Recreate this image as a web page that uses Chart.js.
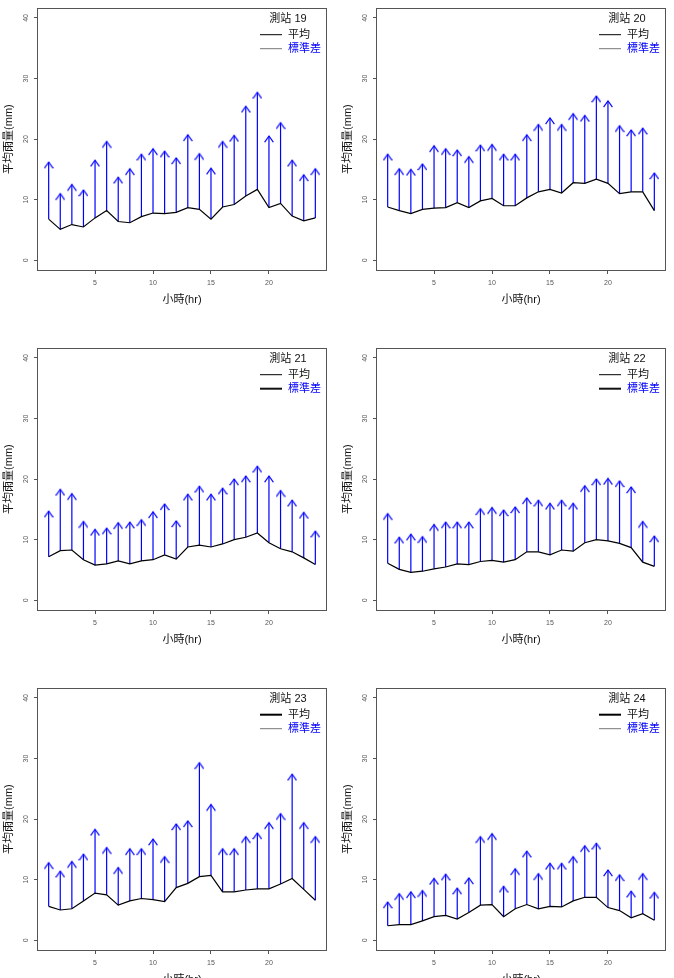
<!DOCTYPE html>
<html><head><meta charset="utf-8">
<script src="https://cdn.jsdelivr.net/npm/chart.js@4.4.1/dist/chart.umd.min.js"></script>
<style>
html,body{margin:0;padding:0;background:#fff;overflow:hidden;width:674px;height:978px;position:relative;}
canvas{position:absolute;}
</style></head><body>
<canvas id="c19" width="339" height="340" style="left:0;top:0"></canvas>
<canvas id="c20" width="339" height="340" style="left:339px;top:0"></canvas>
<canvas id="c21" width="339" height="340" style="left:0;top:340px"></canvas>
<canvas id="c22" width="339" height="340" style="left:339px;top:340px"></canvas>
<canvas id="c23" width="339" height="340" style="left:0;top:680px"></canvas>
<canvas id="c24" width="339" height="340" style="left:339px;top:680px"></canvas>
<script>
// ---- data ----
const hours = [1,2,3,4,5,6,7,8,9,10,11,12,13,14,15,16,17,18,19,20,21,22,23,24];
const xTicks = [5,10,15,20];
const yTicks = [0,10,20,30,40];
const stationNames = ['測站 19','測站 20','測站 21','測站 22','測站 23','測站 24'];
const seriesNames = ['平均','標準差'];

const mean19 = [6.8,5.1,5.9,5.5,7.0,8.2,6.4,6.2,7.2,7.8,7.7,7.9,8.7,8.4,6.8,8.8,9.2,10.6,11.7,8.7,9.4,7.3,6.5,7.0];
const sd19   = [9.4,5.9,6.6,6.1,9.5,11.4,7.3,8.9,10.3,10.6,10.3,9.0,12.0,9.2,8.4,10.8,11.4,14.8,16.0,11.8,13.3,9.2,7.6,8.1];
const mean20 = [8.8,8.2,7.7,8.4,8.6,8.7,9.5,8.7,9.8,10.2,9.0,9.0,10.3,11.3,11.7,11.1,12.8,12.7,13.4,12.7,11.0,11.3,11.3,8.2];
const sd20   = [8.7,6.9,7.3,7.5,10.3,9.7,8.7,8.4,9.2,8.9,8.5,8.5,10.4,11.1,11.8,11.3,11.4,11.2,13.7,13.6,11.2,10.2,10.5,6.2];
const mean21 = [7.2,8.2,8.3,6.7,5.8,6.0,6.5,6.0,6.5,6.7,7.5,6.8,8.8,9.1,8.8,9.3,10.0,10.4,11.1,9.5,8.5,8.0,7.0,5.9];
const sd21   = [7.5,10.1,9.3,6.3,5.9,5.9,6.3,6.9,6.8,7.9,8.4,6.3,8.7,9.7,8.7,9.2,10.0,10.1,11.0,11.0,9.6,8.5,7.5,5.5];
const mean22 = [6.1,5.1,4.6,4.8,5.2,5.5,6.0,5.9,6.4,6.6,6.3,6.7,8.0,8.0,7.5,8.3,8.1,9.5,10.0,9.8,9.4,8.7,6.3,5.6];
const sd22   = [8.2,5.3,6.3,5.7,7.3,7.4,6.9,7.0,8.7,8.7,8.6,8.7,8.9,8.5,8.5,8.2,7.9,9.4,10.0,10.3,10.3,10.0,6.7,5.0];
const mean23 = [5.6,5.0,5.2,6.5,7.8,7.5,5.8,6.5,6.9,6.7,6.4,8.7,9.4,10.5,10.7,8.0,8.0,8.3,8.5,8.5,9.3,10.2,8.4,6.6];
const sd23   = [7.2,6.4,7.8,7.7,10.5,7.8,6.2,8.6,8.2,10.0,7.4,10.5,10.3,18.8,11.7,7.1,7.1,8.8,9.2,10.9,11.6,17.2,11.0,10.5];
const mean24 = [2.4,2.6,2.6,3.2,3.9,4.1,3.5,4.6,5.8,5.9,3.9,5.2,5.9,5.2,5.6,5.5,6.5,7.1,7.1,5.4,4.9,3.7,4.4,3.3];
const sd24   = [3.9,5.1,5.4,5.0,6.3,6.8,5.1,5.7,11.3,11.7,5.0,6.6,8.8,5.8,7.1,7.2,7.3,8.5,8.9,6.2,5.9,4.4,6.6,4.6];

// ---- styles ----
const FONT = '"Liberation Sans","Noto Sans CJK TC",sans-serif';
const legendLineStyles = [
  [{c:'#000',w:1},{c:'#777',w:1}],
  [{c:'#000',w:1},{c:'#777',w:1}],
  [{c:'#000',w:1},{c:'#111',w:2}],
  [{c:'#000',w:1},{c:'#111',w:2}],
  [{c:'#000',w:2},{c:'#777',w:1}],
  [{c:'#000',w:2},{c:'#777',w:1}]
];

function makeArrowHead(){
  const c = document.createElement('canvas'); c.width = 10; c.height = 14;
  const g = c.getContext('2d');
  g.strokeStyle = '#0000ff'; g.lineWidth = 1.2;
  g.beginPath(); g.moveTo(0.6,13.2); g.lineTo(5,7); g.lineTo(9.4,13.2); g.stroke();
  return c;
}
const arrowHead = makeArrowHead();

const boxPlugin = {
  id: 'rbox',
  afterDraw(chart){
    const a = chart.chartArea, ctx = chart.ctx;
    ctx.save(); ctx.strokeStyle = '#555'; ctx.lineWidth = 1;
    ctx.strokeRect(Math.round(a.left)-0.5, Math.round(a.top)+0.5, Math.round(a.right-a.left)+1, Math.round(a.bottom-a.top));
    ctx.restore();
  }
};

const legendPlugin = {
  id: 'rLegend',
  afterDraw(chart, args, opts){
    const a = chart.chartArea, ctx = chart.ctx;
    ctx.save();
    ctx.font = '11px ' + FONT;
    ctx.fillStyle = '#111'; ctx.textAlign = 'center'; ctx.textBaseline = 'middle';
    ctx.fillText(opts.title, a.left + 250, a.top + 10.5);
    const items = chart.data.datasets.filter(d => d.label);
    items.forEach((d, i) => {
      const y = a.top + 26.5 + i * 14;
      const st = opts.lines[i];
      ctx.strokeStyle = st.c; ctx.lineWidth = st.w;
      ctx.beginPath(); ctx.moveTo(a.left + 222, y); ctx.lineTo(a.left + 244, y); ctx.stroke();
      ctx.fillStyle = d.legendTextColor; ctx.textAlign = 'left';
      ctx.fillText(d.label, a.left + 250, y);
    });
    ctx.restore();
  }
};

function makeChart(id, idx, mean, sd){
  const meanPts = hours.map((h,i)=>({x:h, y:mean[i]}));
  const shaft = [];
  hours.forEach((h,i)=>{ shaft.push({x:h,y:mean[i]},{x:h,y:mean[i]+sd[i]},{x:h,y:null}); });
  const tips = hours.map((h,i)=>({x:h, y:mean[i]+sd[i]}));
  new Chart(document.getElementById(id), {
    type: 'line',
    data: { datasets: [
      {label: seriesNames[0], legendTextColor:'#111', data: meanPts, borderColor:'#000', borderWidth:1.2, pointRadius:0, tension:0},
      {label: seriesNames[1], legendTextColor:'#0000ff', data: shaft, borderColor:'#0000ff', borderWidth:1.2, pointRadius:0, spanGaps:false},
      {label: '', data: tips, showLine:false, pointStyle: arrowHead, pointRadius:3, borderColor:'#0000ff', backgroundColor:'#0000ff'}
    ]},
    options: {
      responsive:false, animation:false, devicePixelRatio:1, events:[],
      layout: {padding:{top:7, right:13, left:0, bottom:0}},
      plugins: {legend:{display:false}, tooltip:{enabled:false},
        rLegend: {title: stationNames[idx], lines: legendLineStyles[idx]}},
      scales: {
        x: {type:'linear', min:0.08, max:24.92,
          afterBuildTicks: s => { s.ticks = xTicks.map(v=>({value:v})); },
          afterFit: s => { s.height = 70; },
          grid: {drawOnChartArea:false, drawTicks:true, tickLength:4, color:'#555'},
          border: {display:false},
          ticks: {font:{size:7, family:FONT}, color:'#555', padding:5, minRotation:0, maxRotation:0, autoSkip:false},
          title: {display:true, text:'小時(hr)', font:{size:11, family:FONT}, color:'#111', padding:{top:0, bottom:33}}
        },
        y: {type:'linear', min:-1.6, max:41.6,
          afterBuildTicks: s => { s.ticks = yTicks.map(v=>({value:v})); },
          afterFit: s => { s.width = 38; },
          grid: {drawOnChartArea:false, drawTicks:true, tickLength:4, color:'#555'},
          border: {display:false},
          ticks: {font:{size:7, family:FONT}, color:'#555', padding:4, minRotation:90, maxRotation:90, crossAlign:'center', autoSkip:false},
          title: {display:true, text:'平均雨量(mm)', font:{size:11, family:FONT}, color:'#111', padding:{top:2, bottom:0}}
        }
      }
    },
    plugins: [boxPlugin, legendPlugin]
  });
}

makeChart('c19', 0, mean19, sd19);
makeChart('c20', 1, mean20, sd20);
makeChart('c21', 2, mean21, sd21);
makeChart('c22', 3, mean22, sd22);
makeChart('c23', 4, mean23, sd23);
makeChart('c24', 5, mean24, sd24);
</script>
</body></html>
